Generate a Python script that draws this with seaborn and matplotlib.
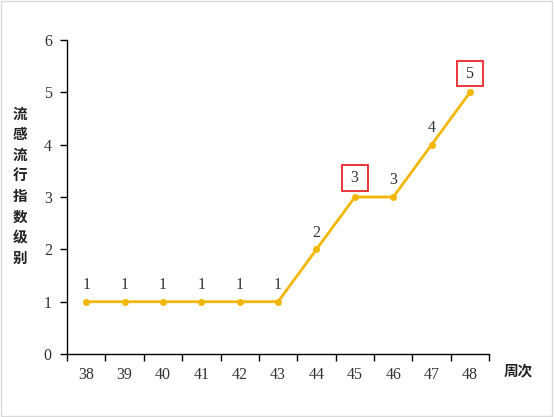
import matplotlib
matplotlib.use("Agg")
import matplotlib.pyplot as plt
import seaborn as sns
import pandas as pd
from matplotlib.patches import Rectangle

# weekly flu level data
weeks = ["38", "39", "40", "41", "42", "43", "44", "45", "46", "47", "48"]
levels = [1, 1, 1, 1, 1, 1, 2, 3, 3, 4, 5]
boxed_weeks = ["45", "48"]

sns.set_style("white")
plt.rcParams["font.family"] = ["Liberation Serif", "Noto Sans CJK SC"]

df = pd.DataFrame({"pos": range(len(weeks)), "week": weeks, "level": levels})

fig = plt.figure(figsize=(5.54, 4.17), dpi=100)
ax = fig.add_axes([0.121, 0.151, 0.762, 0.753])

line_color = "#F2B705"
sns.lineplot(data=df, x="pos", y="level", ax=ax, color=line_color,
             linewidth=2, marker="o", markersize=5, markeredgewidth=0)

# value labels
for i, (w, v) in enumerate(zip(weeks, levels)):
    if w in boxed_weeks:
        ax.text(i, v + 0.36, f" {v} ", ha="center", va="center", fontsize=11.5,
                color="#333333",
                bbox=dict(boxstyle="square,pad=0.3", facecolor="white",
                          edgecolor="#E8262B", linewidth=1.3))
    else:
        ax.text(i, v + 0.32, str(v), ha="center", va="center", fontsize=11.5,
                color="#333333")

ax.set_ylim(0, 6)
ax.set_xlim(-0.5, len(weeks) - 0.5)
ax.set_yticks(range(0, 7))
ax.set_yticklabels([str(t) for t in range(0, 7)], fontsize=11.5, color="#333333")

# category axis: ticks between categories, labels at centers
ax.set_xticks([i - 0.5 for i in range(len(weeks) + 1)])
ax.set_xticklabels([""] * (len(weeks) + 1))
ax.set_xticks(range(len(weeks)), minor=True)
ax.set_xticklabels(weeks, minor=True, fontsize=11.5, color="#333333")
ax.tick_params(axis="x", which="major", bottom=True, direction="out",
               length=5, width=1, color="black")
ax.tick_params(axis="x", which="minor", bottom=True, length=0, pad=9)
ax.tick_params(axis="y", left=True, direction="out", length=5, width=1,
               color="black", pad=6)

for side in ["top", "right"]:
    ax.spines[side].set_visible(False)
for side in ["left", "bottom"]:
    ax.spines[side].set_color("black")
    ax.spines[side].set_linewidth(1)

ax.set_xlabel("")
ax.set_ylabel("")
ax.grid(False)

fig.text(0.036, 0.555, "流\n感\n流\n行\n指\n数\n级\n别", ha="center", va="center",
         fontsize=10.5, fontweight="bold", family="Noto Sans CJK SC",
         linespacing=1.35, color="#222222")
fig.text(0.935, 0.112, "周次", ha="center", va="center", fontsize=10.5,
         fontweight="bold", family="Noto Sans CJK SC", color="#222222")

# light frame around figure
fig.patches.append(Rectangle((0.002, 0.003), 0.995, 0.994, transform=fig.transFigure,
                             fill=False, edgecolor="#D9D9D9", linewidth=1))

fig.savefig("out.png", dpi=100)
